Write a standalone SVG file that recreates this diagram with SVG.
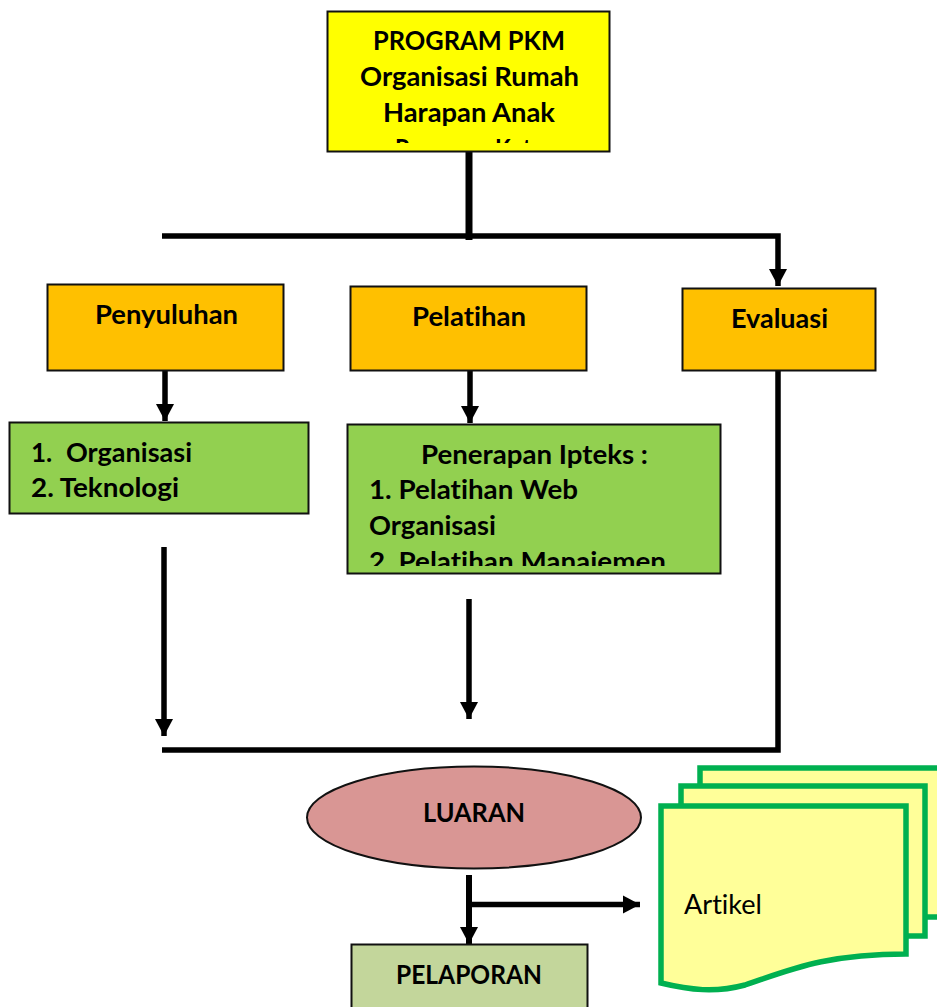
<svg xmlns="http://www.w3.org/2000/svg" width="937" height="1007" viewBox="0 0 937 1007">
<style>
text{font-family:"Lato","Carlito","Open Sans","Liberation Sans",sans-serif;font-weight:700;font-size:26px;fill:#000;font-variant-ligatures:none}
.box{stroke:#111;stroke-width:2}
.ln{fill:none;stroke:#000;stroke-width:5.500}
.doc{fill:#ffff99;stroke:#00b050;stroke-width:5.500}
</style>
<defs>
<marker id="arr" markerUnits="userSpaceOnUse" markerWidth="19" markerHeight="19" refX="17" refY="9.500" orient="auto"><path d="M0 0.500L17 9.500L0 18.500Z" fill="#000"/></marker>
<clipPath id="c1"><rect x="328" y="12" width="282" height="131"/></clipPath>
<clipPath id="c2"><rect x="348" y="424" width="372" height="142"/></clipPath>
</defs>
<g id="connectors">
<path class="ln" d="M469 152V240" style="stroke-width:7"/>
<path class="ln" d="M162 236H778V286" marker-end="url(#arr)"/>
<path class="ln" d="M165 371V421" marker-end="url(#arr)"/>
<path class="ln" d="M470 371V423" marker-end="url(#arr)"/>
<path class="ln" d="M164 547V736" marker-end="url(#arr)"/>
<path class="ln" d="M469 599V719" marker-end="url(#arr)"/>
<path class="ln" d="M778 371V750H162"/>
<path class="ln" d="M469 875V944" style="stroke-width:6" marker-end="url(#arr)"/>
<path class="ln" d="M470 904.500H640" marker-end="url(#arr)"/>
</g>
<g id="program"><rect class="box" x="327.500" y="11.500" width="282" height="140" fill="#ffff00"/>
<g clip-path="url(#c1)"><text x="373" y="50" textLength="192" lengthAdjust="spacingAndGlyphs">PROGRAM PKM</text><text x="360" y="86" textLength="219" lengthAdjust="spacingAndGlyphs">Organisasi Rumah</text><text x="383" y="122" textLength="172" lengthAdjust="spacingAndGlyphs">Harapan Anak</text><text x="395" y="158" textLength="148" lengthAdjust="spacingAndGlyphs">Pasuruan Kota</text></g></g>
<g id="penyuluhan"><rect class="box" x="47.500" y="284.500" width="236" height="86" fill="#ffc000"/><text x="95" y="324" textLength="143" lengthAdjust="spacingAndGlyphs">Penyuluhan</text></g>
<g id="pelatihan"><rect class="box" x="350.500" y="286.500" width="236" height="84" fill="#ffc000"/><text x="412" y="326" textLength="114" lengthAdjust="spacingAndGlyphs">Pelatihan</text></g>
<g id="evaluasi"><rect class="box" x="682.500" y="288.500" width="193" height="82" fill="#ffc000"/><text x="731" y="328" textLength="97" lengthAdjust="spacingAndGlyphs">Evaluasi</text></g>
<g id="organisasi"><rect class="box" x="9.500" y="422.500" width="299" height="91" fill="#92d050"/><text x="31" y="462">1.<tspan x="66" textLength="126" lengthAdjust="spacingAndGlyphs">Organisasi</tspan></text><text x="31" y="497" textLength="148" lengthAdjust="spacingAndGlyphs">2. Teknologi</text></g>
<g id="penerapan"><rect class="box" x="347.500" y="424.500" width="373" height="149" fill="#92d050"/>
<g clip-path="url(#c2)"><text x="421" y="464" textLength="227" lengthAdjust="spacingAndGlyphs">Penerapan Ipteks :</text><text x="369" y="499" textLength="209" lengthAdjust="spacingAndGlyphs">1. Pelatihan Web</text><text x="369" y="535" textLength="127" lengthAdjust="spacingAndGlyphs">Organisasi</text><text x="369" y="571" textLength="297" lengthAdjust="spacingAndGlyphs">2. Pelatihan Manajemen</text></g></g>
<g id="luaran"><ellipse cx="474" cy="817.500" rx="167" ry="51" fill="#d99694" stroke="#111" stroke-width="2"/><text x="423" y="822" textLength="102" lengthAdjust="spacingAndGlyphs">LUARAN</text></g>
<g id="pelaporan"><path class="box" d="M351.500 1008V944.500H587.500V1008" fill="#c3d69b"/><text x="396" y="984" textLength="146" lengthAdjust="spacingAndGlyphs">PELAPORAN</text></g>
<g id="artikel">
<path class="doc" d="M700 800V768H945V917H920"/>
<path class="doc" d="M681 820V786H925V936H905"/>
<path class="doc" d="M661 806H906V954C825 954 790 970 745 985C715 993 690 990 661 983Z"/>
<text x="684" y="914" textLength="78" lengthAdjust="spacingAndGlyphs" style="font-weight:400">Artikel</text>
</g>
</svg>
